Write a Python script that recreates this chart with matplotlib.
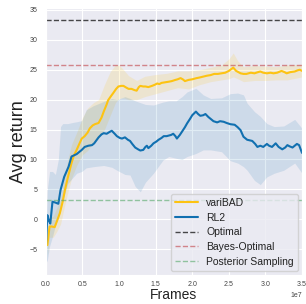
import numpy as np
import matplotlib
matplotlib.use("Agg")
import matplotlib.pyplot as plt
import seaborn as sns

# ---------------- data (frames in units of 1e7) ----------------
vb_x = [0.02, 0.05, 0.08, 0.12, 0.16, 0.19, 0.23, 0.26, 0.30, 0.35, 0.38, 0.42, 0.46, 0.49,
        0.53, 0.57, 0.60, 0.64, 0.67, 0.72, 0.76, 0.79, 0.83, 0.85, 0.89, 0.92, 0.96, 0.99,
        1.03, 1.06, 1.10, 1.13, 1.17, 1.21, 1.24, 1.27, 1.29, 1.33, 1.36, 1.40, 1.45, 1.49,
        1.52, 1.55, 1.58, 1.63, 1.68, 1.72, 1.77, 1.80, 1.84, 1.87, 1.90, 1.95, 2.00, 2.03,
        2.06, 2.10, 2.15, 2.20, 2.25, 2.30, 2.35, 2.40, 2.45, 2.50, 2.56, 2.60, 2.66, 2.70,
        2.74, 2.80, 2.85, 2.90, 2.93, 2.97, 3.02, 3.07, 3.11, 3.16, 3.22, 3.26, 3.29, 3.34,
        3.40, 3.44, 3.47, 3.50]
vb_y = [-4.3, -1.2, -1.2, -1.3, 0.0, 1.0, 3.0, 4.9, 7.0, 9.4, 10.6, 11.6, 12.7, 13.5,
        13.9, 14.5, 15.2, 15.7, 15.9, 16.1, 17.0, 18.0, 19.2, 19.9, 20.6, 21.1, 21.8, 22.2,
        22.3, 22.3, 22.0, 21.8, 21.8, 21.6, 21.5, 22.1, 22.3, 22.2, 22.2, 22.1, 22.3, 22.5,
        22.7, 22.6, 22.8, 22.9, 23.0, 23.1, 23.3, 23.4, 23.6, 23.4, 23.1, 23.3, 23.4, 23.5,
        23.6, 23.7, 23.85, 24.0, 24.1, 24.3, 24.3, 24.4, 24.5, 24.8, 25.35, 24.8, 24.4, 24.3,
        24.3, 24.5, 24.4, 24.6, 24.7, 24.5, 24.4, 24.5, 24.4, 24.5, 24.8, 24.6, 24.4, 24.6,
        24.7, 24.9, 25.0, 24.8]

vb_band_x = [0.02, 0.05, 0.10, 0.15, 0.20, 0.26, 0.30, 0.35, 0.42, 0.50, 0.57, 0.65, 0.72,
             0.80, 0.88, 0.95, 1.00, 1.06, 1.13, 1.24, 1.35, 1.50, 1.65, 1.80, 1.95, 2.10,
             2.25, 2.40, 2.50, 2.56, 2.62, 2.70, 2.85, 3.00, 3.15, 3.30, 3.50]
vb_lo = [-6.0, -3.0, -3.0, -2.0, -0.8, 2.5, 4.5, 6.8, 9.0, 10.8, 11.5, 12.8, 13.5,
         15.0, 17.4, 19.5, 20.2, 20.3, 20.0, 20.0, 20.5, 21.0, 21.5, 22.0, 21.8, 22.5,
         23.0, 23.3, 23.5, 23.8, 23.5, 23.0, 23.2, 23.2, 23.3, 23.3, 23.8]
vb_hi = [-2.5, 0.5, 0.5, 2.0, 3.3, 7.5, 10.0, 12.5, 14.5, 17.0, 18.6, 19.5, 20.0,
         22.5, 24.7, 25.8, 25.8, 25.0, 24.0, 23.2, 23.9, 24.2, 24.4, 24.8, 24.8, 25.0,
         25.4, 25.8, 26.8, 27.8, 26.5, 25.5, 25.7, 25.6, 25.5, 25.8, 25.9]

rl_x = [0.00, 0.02, 0.04, 0.06, 0.09, 0.13, 0.17, 0.20, 0.25, 0.31, 0.35, 0.42, 0.49, 0.53,
        0.58, 0.63, 0.66, 0.72, 0.76, 0.79, 0.83, 0.87, 0.90, 0.94, 0.97, 1.01, 1.04, 1.08,
        1.12, 1.15, 1.18, 1.22, 1.26, 1.29, 1.33, 1.36, 1.38, 1.40, 1.44, 1.47, 1.51, 1.54,
        1.58, 1.61, 1.65, 1.68, 1.71, 1.74, 1.77, 1.79, 1.83, 1.86, 1.90, 1.93, 1.97, 2.00,
        2.05, 2.08, 2.11, 2.15, 2.18, 2.22, 2.25, 2.29, 2.34, 2.38, 2.43, 2.47, 2.52, 2.58,
        2.62, 2.66, 2.70, 2.75, 2.82, 2.86, 2.89, 2.93, 2.97, 3.02, 3.05, 3.09, 3.14, 3.18,
        3.23, 3.27, 3.30, 3.33, 3.37, 3.43, 3.46, 3.50]
rl_y = [-4.6, 0.7, -0.2, -0.7, 2.95, 2.8, 2.6, 4.9, 7.1, 8.8, 10.5, 10.9, 11.6, 12.1,
        12.3, 12.4, 12.7, 13.7, 14.2, 14.4, 14.3, 14.6, 14.8, 14.3, 13.9, 13.6, 13.5, 13.7,
        13.3, 13.1, 12.6, 12.0, 11.7, 11.5, 11.6, 12.1, 12.3, 11.9, 12.3, 12.7, 13.0, 13.3,
        13.6, 13.9, 13.9, 14.0, 14.1, 14.3, 13.9, 13.5, 14.1, 14.65, 15.4, 16.05, 16.8, 17.4,
        18.0, 17.6, 17.3, 17.4, 17.6, 17.1, 16.8, 16.4, 16.2, 16.4, 16.3, 16.1, 15.9, 15.8,
        15.4, 14.9, 13.8, 13.3, 13.1, 12.6, 12.1, 12.3, 12.1, 12.6, 12.3, 12.1, 12.7, 12.1,
        11.7, 12.0, 12.4, 12.2, 12.0, 12.6, 12.4, 11.1]

rl_band_x = [0.00, 0.02, 0.05, 0.09, 0.13, 0.17, 0.20, 0.23, 0.30, 0.37, 0.42, 0.49, 0.55,
             0.65, 0.79, 0.90, 0.97, 1.08, 1.15, 1.22, 1.29, 1.36, 1.47, 1.60, 1.68, 1.78,
             1.86, 1.93, 2.05, 2.15, 2.25, 2.40, 2.52, 2.62, 2.70, 2.75, 2.85, 2.93, 3.02,
             3.12, 3.25, 3.40, 3.50]
rl_lo = [-7.3, -6.8, -4.5, -2.9, -1.0, 0.4, 1.5, 3.2, 6.0, 7.0, 7.7, 8.0, 8.6,
         8.8, 9.0, 8.7, 8.2, 7.5, 7.4, 5.5, 4.6, 6.2, 7.7, 9.9, 10.5, 10.2,
         10.0, 10.5, 11.0, 11.6, 11.6, 11.3, 9.8, 9.4, 8.8, 8.2, 6.5, 5.8, 7.1,
         7.7, 8.2, 9.4, 7.7]
rl_hi = [-2.0, 5.0, 8.0, 8.0, 7.5, 10.0, 15.5, 16.0, 16.0, 16.2, 16.3, 16.5, 18.3,
         19.0, 19.7, 20.2, 20.0, 20.5, 20.2, 19.8, 19.5, 19.2, 19.1, 19.6, 19.8, 19.8,
         20.5, 21.3, 21.9, 20.8, 20.2, 20.3, 21.0, 21.1, 20.8, 19.4, 18.0, 17.2, 16.0,
         15.5, 15.6, 16.7, 15.2]

optimal = 33.3
bayes_optimal = 25.8
posterior_sampling = 3.3

scale = 1e7

# ---------------- plot ----------------
sns.set_style("darkgrid")
plt.rcParams["font.family"] = ["Liberation Sans", "DejaVu Sans"]

fig = plt.figure(figsize=(3.06, 3.04), dpi=100)
ax = fig.add_axes([0.150, 0.0954, 0.837, 0.879])

c_vb = "#FDC312"
c_rl = "#1170B0"

ax.fill_between(np.array(vb_band_x) * scale, vb_lo, vb_hi, color=c_vb, alpha=0.15, lw=0)
ax.fill_between(np.array(rl_band_x) * scale, rl_lo, rl_hi, color=c_rl, alpha=0.13, lw=0)
ax.plot(np.array(vb_x) * scale, vb_y, color=c_vb, lw=1.5, label="variBAD")
ax.plot(np.array(rl_x) * scale, rl_y, color=c_rl, lw=1.5, label="RL2")
ax.axhline(optimal, color="black", ls="--", lw=1.0, alpha=0.7, label="Optimal")
ax.axhline(bayes_optimal, color="#C44E52", ls="--", lw=1.0, alpha=0.65, label="Bayes-Optimal")
ax.axhline(posterior_sampling, color="#55A868", ls="--", lw=1.0, alpha=0.6, label="Posterior Sampling")

ax.set_xlim(0, 3.5e7)
ax.set_ylim(-9.3, 35.35)
ax.set_yticks([-5, 0, 5, 10, 15, 20, 25, 30, 35])
ax.set_xticks([0, 0.5e7, 1.0e7, 1.5e7, 2.0e7, 2.5e7, 3.0e7, 3.5e7])
ax.tick_params(axis="y", labelsize=5, pad=6, length=0, labelcolor="#444444")
ax.tick_params(axis="x", labelsize=5, pad=4, length=0, labelcolor="#444444")
ax.xaxis.get_offset_text().set_fontsize(5)
ax.xaxis.get_offset_text().set_color("#444444")

ax.set_xlabel("Frames", fontsize=10, labelpad=0.5, color="#222222")
ax.set_ylabel("Avg return", fontsize=13, labelpad=2, color="#222222")

leg = ax.legend(loc="lower right", fontsize=7.5, frameon=True, borderaxespad=0.4,
                handlelength=2.2, labelspacing=0.45)
for t in leg.get_texts():
    t.set_color("#222222")

fig.savefig("out.png", dpi=100)
